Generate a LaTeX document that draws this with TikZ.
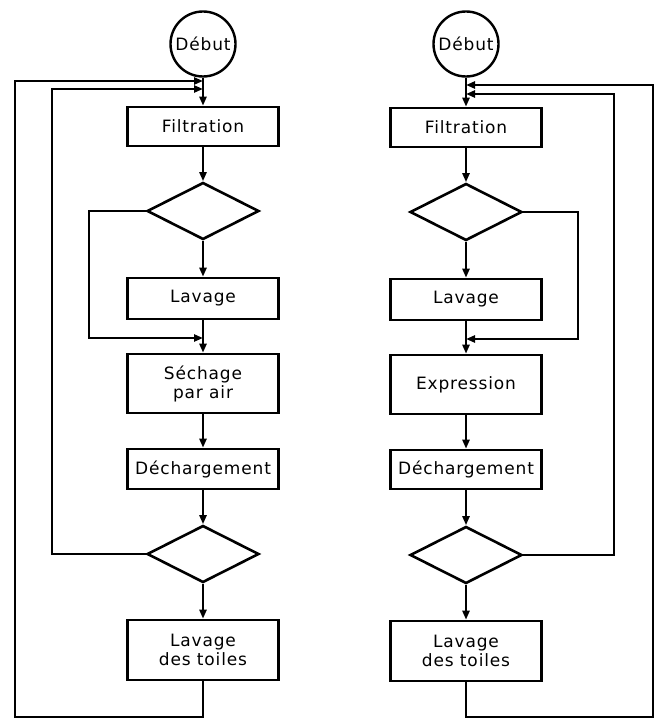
\documentclass[tikz,border=0pt]{standalone}
\usepackage{fontspec}
\setmainfont{DejaVu Sans}[LetterSpace=5]
\usetikzlibrary{shapes.geometric,arrows.meta}
\begin{document}
\begin{tikzpicture}[x=1pt,y=-1pt,
  every node/.style={font=\fontsize{17}{19}\selectfont, align=center},
  box/.style={draw, line width=2.6pt, rectangle, inner sep=0pt, minimum width=151pt},
  circ/.style={draw, line width=2.4pt, circle, inner sep=0pt, minimum size=65pt},
  dia/.style={draw, line width=2.6pt, diamond, inner sep=0pt, minimum width=112pt, minimum height=57pt},
  conn/.style={line width=2.3pt},
  arr/.style={conn, -{Triangle[length=9pt,width=7pt]}}]
\useasboundingbox (0,0) rectangle (662,719);
% left column
\node[circ] (d1) at (203,44) {Début};
\node[box, minimum height=39pt] (f1) at (203,126.5) {Filtration};
\node[dia] (q1) at (203,211) {};
\node[box, minimum height=41pt] (l1) at (203,298.5) {Lavage};
\node[box, minimum height=59pt] (s1) at (203,383.5) {Séchage\\par air};
\node[box, minimum height=40pt] (c1) at (203,469) {Déchargement};
\node[dia] (q2) at (203,554) {};
\node[box, minimum height=60pt] (t1) at (203,650) {Lavage\\des toiles};
\coordinate (k0) at (203,81);
\coordinate (k1) at (203,89);
\coordinate (j1) at (203,338);
\coordinate (b1) at (203,717);
\draw[arr] (d1) -- (f1);
\draw[arr] (f1) -- (q1);
\draw[arr] (q1) -- (l1);
\draw[arr] (l1) -- (s1);
\draw[arr] (s1) -- (c1);
\draw[arr] (c1) -- (q2);
\draw[arr] (q2) -- (t1);
\draw[arr] (q1.west) -- (89,211) |- (j1);
\draw[arr] (q2.west) -- (52,554) |- (k1);
\draw[arr] (t1.south) -- (b1) -| (15,81) -- (k0);
% right column
\node[circ] (d2) at (466,44) {Début};
\node[box, minimum height=39pt] (f2) at (466,127.5) {Filtration};
\node[dia] (q3) at (466,212) {};
\node[box, minimum height=41pt] (l2) at (466,299.5) {Lavage};
\node[box, minimum height=59pt] (e2) at (466,384.5) {Expression};
\node[box, minimum height=39pt] (c2) at (466,469.5) {Déchargement};
\node[dia] (q4) at (466,555) {};
\node[box, minimum height=60pt] (t2) at (466,651) {Lavage\\des toiles};
\coordinate (k3) at (466,85);
\coordinate (k2) at (466,94);
\coordinate (j2) at (466,339);
\coordinate (b2) at (466,717);
\draw[arr] (d2) -- (f2);
\draw[arr] (f2) -- (q3);
\draw[arr] (q3) -- (l2);
\draw[arr] (l2) -- (e2);
\draw[arr] (e2) -- (c2);
\draw[arr] (c2) -- (q4);
\draw[arr] (q4) -- (t2);
\draw[arr] (q3.east) -- (578,212) |- (j2);
\draw[arr] (q4.east) -- (614,555) |- (k2);
\draw[arr] (t2.south) -- (b2) -| (653,85) -- (k3);
\end{tikzpicture}
\end{document}
